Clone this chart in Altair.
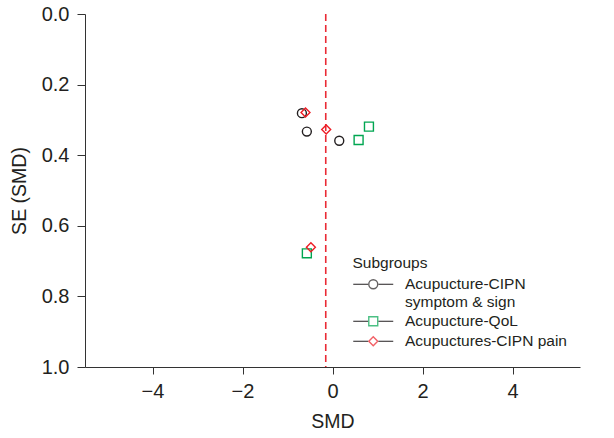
import altair as alt
import pandas as pd

# ---- data ----
group_names = ["Acupucture-CIPN symptom & sign", "Acupucture-QoL", "Acupuctures-CIPN pain"]
circle_smd = [-0.68, -0.57, 0.15]
circle_se = [0.281, 0.333, 0.359]
square_smd = [0.81, 0.58, -0.57]
square_se = [0.319, 0.357, 0.678]
diamond_smd = [-0.60, -0.14, -0.48]
diamond_se = [0.279, 0.327, 0.661]
pooled_smd = -0.15
x_ticks = [-4, -2, 0, 2, 4]
y_ticks = [0.0, 0.2, 0.4, 0.6, 0.8, 1.0]

rows = []
for g, xs, ys in zip(group_names, [circle_smd, square_smd, diamond_smd], [circle_se, square_se, diamond_se]):
    for a, b in zip(xs, ys):
        rows.append({"group": g, "group2": g, "smd": a, "se": b})
df = pd.DataFrame(rows)
pooled = pd.DataFrame({"smd": [pooled_smd]})

FONT = "Liberation Sans"
TXT = "#231f20"

label_expr = ("datum.label == 'Acupucture-CIPN symptom & sign' ? "
              "['Acupucture-CIPN', 'symptom & sign'] : datum.label")

common_legend = dict(
    orient="none", legendX=267.5,
    symbolSize=80, symbolOffset=13, labelOffset=24,
    labelExpr=label_expr, labelBaseline="middle",
    labelFontSize=15.5, labelFont=FONT, labelColor=TXT, labelLimit=300,
    titleFontSize=15.5, titleFont=FONT, titleFontWeight="normal", titleColor=TXT,
    titlePadding=5, rowPadding=3, padding=0,
)

legend_markers = alt.Legend(title="Subgroups", legendY=242, symbolStrokeWidth=1.4, **common_legend)
legend_lines = alt.Legend(
    title=None, legendY=262.5, labelOpacity=0,
    symbolType="M-4.47,0H-1.15M1.15,0H4.47", symbolStrokeWidth=1,
    symbolStrokeColor=TXT, symbolFillColor="transparent",
    **common_legend,
)

x = alt.X("smd:Q", title="SMD",
          scale=alt.Scale(domain=[-5.5, 5.5], nice=False, zero=False),
          axis=alt.Axis(values=x_ticks, grid=False, format="d"))
y = alt.Y("se:Q", title="SE (SMD)",
          scale=alt.Scale(domain=[0, 1], reverse=True, nice=False),
          axis=alt.Axis(values=y_ticks, grid=False, format=".1f"))

points = alt.Chart(df).mark_point(size=80, strokeWidth=1.4, filled=False, color=TXT).encode(
    x=x, y=y,
    shape=alt.Shape("group:N", scale=alt.Scale(domain=group_names, range=["circle", "square", "diamond"]),
                    legend=legend_markers),
    color=alt.Color("group:N", scale=alt.Scale(domain=group_names, range=["#231f20", "#00a651", "#ed1c24"]),
                    legend=legend_markers),
    opacity=alt.Opacity("group2:N", scale=alt.Scale(range=[1, 1, 1]), legend=legend_lines),
)

rule = alt.Chart(pooled).mark_rule(color="#ea2a35", strokeWidth=1.6, strokeDash=[7, 4]).encode(
    x=alt.X("smd:Q")
)

chart = alt.layer(rule, points).properties(
    width=495, height=353,
    autosize=alt.AutoSizeParams(type="none"),
    padding={"left": 85, "top": 14, "right": 34, "bottom": 71},
).configure_view(stroke=None).configure_axis(
    labelFont=FONT, titleFont=FONT, labelFontSize=20, titleFontSize=19.5,
    labelColor=TXT, titleColor=TXT, titleFontWeight="normal",
    domainColor="#333333", tickColor="#333333", tickSize=8, domainWidth=1, tickWidth=1,
).configure_axisY(titlePadding=12, labelPadding=8).configure_axisX(titlePadding=11, labelPadding=7, tickSize=7)

chart.save("out.html", embed_options={"renderer": "svg", "actions": False})
